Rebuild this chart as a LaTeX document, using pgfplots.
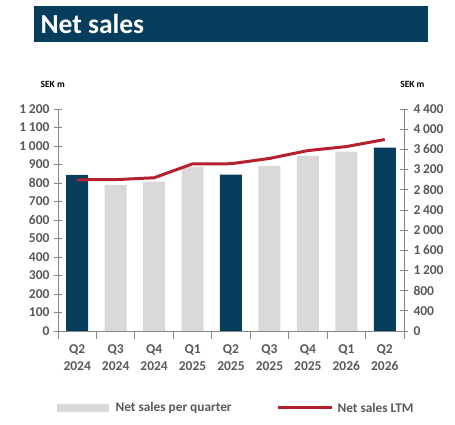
\documentclass[border=0pt]{standalone}
\usepackage{pgfplots}
\pgfplotsset{compat=1.18}
\usepackage{fontspec}
\setmainfont{Carlito}

\definecolor{navy}{HTML}{063D5C}
\definecolor{barGray}{HTML}{D9D9D9}
\definecolor{ltmRed}{HTML}{B5202E}
\definecolor{axisGray}{HTML}{868686}
\definecolor{txtGray}{HTML}{595959}

% Quarterly net sales (SEK m); Q2 quarters highlighted
\pgfplotstableread{
x  sales
0  844
4  845
8  991
}\highlighted
\pgfplotstableread{
x  sales
1  790
2  808
3  889
5  893
6  947
7  969
}\regular
% Net sales, last twelve months (SEK m)
\pgfplotstableread{
x  ltm
0  2997
1  3000
2  3037
3  3313
4  3315
5  3420
6  3576
7  3655
8  3795
}\ltm

\pgfplotsset{
  common/.style={
    scale only axis,
    width=346pt, height=222pt,
    at={(58pt,94pt)}, anchor=south west,
    xmin=-0.5, xmax=8.5,
    ymin=0,
    tick align=center,
    major tick length=8pt,
    every tick/.style={axisGray, line width=0.8pt},
    axis line style={axisGray, line width=0.8pt},
    tick label style={font=\fontsize{13.5}{17}\selectfont\bfseries, text=txtGray},
    /pgf/number format/assume math mode=true,
    /pgf/number format/1000 sep={\hspace{0.2em}},
    clip=false,
  }
}

\begin{document}
\begin{tikzpicture}[x=1pt,y=1pt]
\path (0,0) rectangle (455,425);

% title banner
\fill[navy] (34,383) rectangle (428,419);
\node[anchor=west, text=white, font=\fontsize{27.5}{30}\selectfont\bfseries] at (37,401) {Net sales};

% unit labels
\node[anchor=west, font=\fontsize{9.5}{10}\selectfont\bfseries] at (37,341) {SEK m};
\node[anchor=east, font=\fontsize{9.5}{10}\selectfont\bfseries] at (428,341) {SEK m};

\begin{axis}[common,
  ymax=1200,
  axis y line*=left, axis x line*=bottom,
  ytick={0,100,...,1200},
  xtick={-0.5,0.5,...,8.5},
  xticklabels={},
  extra x ticks={0,...,8},
  extra x tick labels={Q2\\2024,Q3\\2024,Q4\\2024,Q1\\2025,Q2\\2025,Q3\\2025,Q4\\2025,Q1\\2026,Q2\\2026},
  extra x tick style={major tick length=0pt, xticklabel style={align=center, yshift=-10pt}},
  yticklabel style={xshift=-1pt},
  ybar, bar width=22pt, bar shift=0pt,
]
\addplot[fill=navy, draw=none] table[x=x, y=sales] {\highlighted};
\addplot[fill=barGray, draw=none] table[x=x, y=sales] {\regular};
\end{axis}

\begin{axis}[common,
  ymax=4400,
  axis y line*=right, axis x line=none,
  ytick={0,400,...,4400},
  yticklabel style={xshift=2pt},
]
\addplot[ltmRed, line width=3pt, no markers] table[x=x, y=ltm] {\ltm};
\end{axis}

% legend
\fill[barGray] (57,13) rectangle (109,21);
\node[anchor=west, text=txtGray, font=\fontsize{13.3}{15}\selectfont\bfseries] at (112,17) {Net sales per quarter};
\draw[ltmRed, line width=3pt] (278,17) -- (332,17);
\node[anchor=west, text=txtGray, font=\fontsize{13.3}{15}\selectfont\bfseries] at (334,17) {Net sales LTM};
\end{tikzpicture}
\end{document}
